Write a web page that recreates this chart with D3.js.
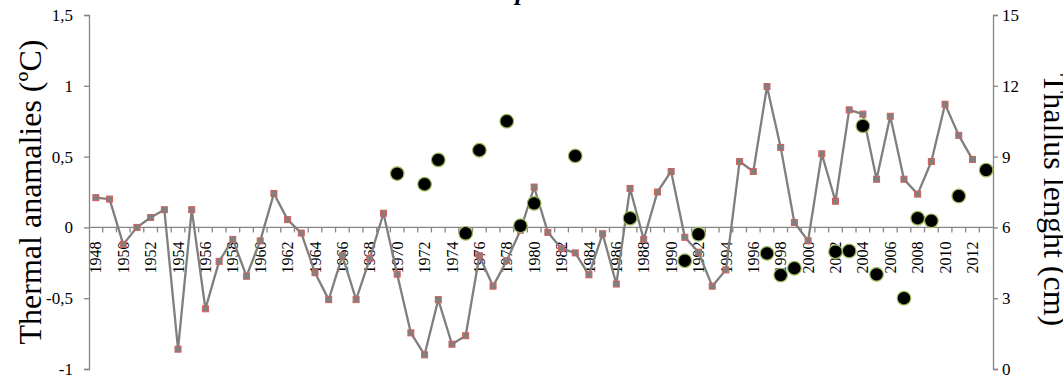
<!DOCTYPE html>
<html>
<head>
<meta charset="utf-8">
<script src="https://cdn.jsdelivr.net/npm/d3@7"></script>
<style>
  html, body { margin: 0; padding: 0; background: #fff; }
  svg { display: block; font-family: "Liberation Serif", "Times New Roman", serif; }
</style>
</head>
<body>
<svg id="chart" width="1063" height="380"></svg>
<script>
// Years on the category axis (one band per year)
const years = [1948,1949,1950,1951,1952,1953,1954,1955,1956,1957,1958,1959,1960,1961,1962,1963,
  1964,1965,1966,1967,1968,1969,1970,1971,1972,1973,1974,1975,1976,1977,1978,1979,1980,1981,
  1982,1983,1984,1985,1986,1987,1988,1989,1990,1991,1992,1993,1994,1995,1996,1997,1998,1999,
  2000,2001,2002,2003,2004,2005,2006,2007,2008,2009,2010,2011,2012,2013];

// Thermal anomalies (ºC), 1948–2012
const anomalyYears = years.slice(0, 65);
const anomalies = [0.21,0.20,-0.12,0.00,0.07,0.125,-0.86,0.125,-0.575,-0.24,-0.085,-0.345,-0.095,
  0.24,0.055,-0.04,-0.32,-0.51,-0.2,-0.51,-0.22,0.10,-0.33,-0.745,-0.90,-0.51,-0.825,-0.765,
  -0.2,-0.415,-0.235,-0.02,0.285,-0.035,-0.15,-0.18,-0.335,-0.045,-0.40,0.275,-0.085,0.25,
  0.395,-0.07,-0.175,-0.415,-0.30,0.465,0.395,0.995,0.565,0.035,-0.095,0.52,0.185,0.83,0.80,
  0.34,0.785,0.34,0.235,0.465,0.87,0.65,0.48];

// Thallus length (cm) for sampled years
const thallusYears = [1970,1972,1973,1975,1976,1978,1979,1980,1983,1987,1991,1992,1997,1998,
  1999,2002,2003,2004,2005,2007,2008,2009,2011,2013];
const thallus = [8.28,7.83,8.86,5.75,9.27,10.5,6.07,7.02,9.03,6.39,4.59,5.71,4.9,3.98,
  4.27,4.97,5.0,10.3,4.01,3.0,6.39,6.28,7.33,8.43];

// Axis ticks
const leftTicks = [-1,-0.5,0,0.5,1,1.5];
const rightTicks = [0,3,6,9,12,15];
const yearLabels = years.filter(y => y % 2 === 0 && y <= 2012);

const svg = d3.select("#chart");
const axisColor = "#868686";
const fmt = v => String(v).replace(".", ",");

const x = d3.scaleBand().domain(years).range([89, 993]).padding(0);
const yL = d3.scaleLinear().domain([-1, 1.5]).range([369, 15]);
const yR = d3.scaleLinear().domain([0, 15]).range([369, 15]);
const cx = d => x(d) + x.bandwidth() / 2;

// Title (sits above the drawing area)
svg.append("text")
  .attr("x", 522).attr("y", 0)
  .attr("text-anchor", "middle")
  .attr("font-size", 26).attr("font-weight", "bold").attr("font-style", "italic")
  .attr("fill", "#000")
  .text("p");

// Left axis
const gL = svg.append("g").attr("transform", "translate(89,0)")
  .call(d3.axisLeft(yL).tickValues(leftTicks).tickSize(5).tickPadding(11).tickFormat(fmt));
gL.select(".domain").attr("stroke", axisColor).attr("stroke-width", 1.3);
gL.selectAll(".tick line").attr("stroke", axisColor).attr("stroke-width", 1.3);
gL.selectAll(".tick text").attr("font-family", "Liberation Serif").attr("font-size", 17).attr("fill", "#000");

// Right axis
const gR = svg.append("g").attr("transform", "translate(993,0)")
  .call(d3.axisRight(yR).tickValues(rightTicks).tickSize(5).tickPadding(4));
gR.select(".domain").attr("stroke", axisColor).attr("stroke-width", 1.3);
gR.selectAll(".tick line").attr("stroke", axisColor).attr("stroke-width", 1.3);
gR.selectAll(".tick text").attr("font-family", "Liberation Serif").attr("font-size", 17).attr("fill", "#000");

// Category axis along zero, with boundary ticks
const zeroY = yL(0);
svg.append("line")
  .attr("x1", 89).attr("x2", 993).attr("y1", zeroY).attr("y2", zeroY)
  .attr("stroke", axisColor).attr("stroke-width", 1.3);
svg.append("g").selectAll("line")
  .data(years.slice(1))
  .join("line")
  .attr("x1", d => x(d)).attr("x2", d => x(d))
  .attr("y1", zeroY).attr("y2", zeroY + 5)
  .attr("stroke", axisColor).attr("stroke-width", 1.3);

svg.append("g").selectAll("text")
  .data(yearLabels)
  .join("text")
  .attr("transform", d => `translate(${cx(d)},${zeroY + 14}) rotate(-90)`)
  .attr("text-anchor", "end")
  .attr("dy", "0.35em")
  .attr("font-size", 16)
  .attr("fill", "#000")
  .text(d => d);

// Axis titles
svg.append("text")
  .attr("transform", "translate(41,192) rotate(-90)")
  .attr("text-anchor", "middle")
  .attr("font-size", 32).attr("fill", "#000")
  .text("Thermal anamalies (ºC)");

svg.append("text")
  .attr("transform", "translate(1044,200) rotate(90)")
  .attr("text-anchor", "middle")
  .attr("font-size", 32).attr("fill", "#000")
  .text("Thallus lenght (cm)");

// Thermal anomaly line with square markers
const lineData = anomalyYears.map((yr, i) => ({ yr, v: anomalies[i] }));
svg.append("path")
  .datum(lineData)
  .attr("fill", "none")
  .attr("stroke", "#7f7f7f")
  .attr("stroke-width", 2.3)
  .attr("stroke-linejoin", "round")
  .attr("d", d3.line().x(d => cx(d.yr)).y(d => yL(d.v)));

svg.append("g").selectAll("rect")
  .data(lineData)
  .join("rect")
  .attr("x", d => cx(d.yr) - 3).attr("y", d => yL(d.v) - 3)
  .attr("width", 6).attr("height", 6)
  .attr("fill", "#808080")
  .attr("stroke", "#d0605c").attr("stroke-width", 1);

// Thallus length points
const dotData = thallusYears.map((yr, i) => ({ yr, v: thallus[i] }));
svg.append("g").selectAll("circle")
  .data(dotData)
  .join("circle")
  .attr("cx", d => cx(d.yr)).attr("cy", d => yR(d.v))
  .attr("r", 6.8)
  .attr("fill", "#000")
  .attr("stroke", "#9bbb59").attr("stroke-width", 1.2);
</script>
</body>
</html>
